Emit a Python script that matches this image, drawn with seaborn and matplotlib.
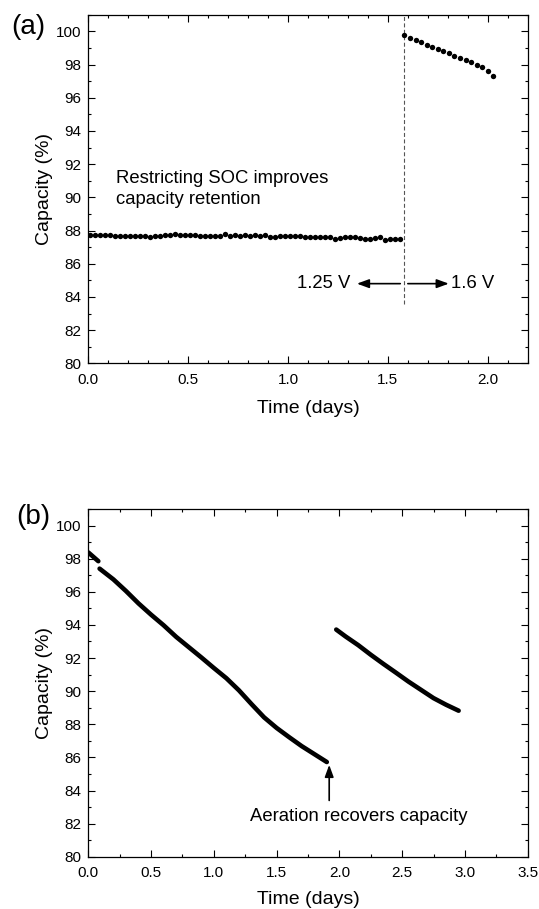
import matplotlib
matplotlib.use("Agg")
import matplotlib.pyplot as plt
from matplotlib.ticker import MultipleLocator, FormatStrFormatter
import seaborn as sns
import pandas as pd

# ---------------- data ----------------
# Panel (a): 1.25 V segment
a1_time = [0.010, 0.035, 0.060, 0.085, 0.110, 0.135, 0.160, 0.185, 0.210, 0.235,
           0.260, 0.285, 0.310, 0.335, 0.360, 0.385, 0.410, 0.435, 0.460, 0.485,
           0.510, 0.535, 0.560, 0.585, 0.610, 0.635, 0.660, 0.685, 0.710, 0.735,
           0.760, 0.785, 0.810, 0.835, 0.860, 0.885, 0.910, 0.935, 0.960, 0.985,
           1.010, 1.035, 1.060, 1.085, 1.110, 1.135, 1.160, 1.185, 1.210, 1.235,
           1.260, 1.285, 1.310, 1.335, 1.360, 1.385, 1.410, 1.435, 1.460, 1.485,
           1.510, 1.535, 1.560]
a1_cap = [87.72, 87.72, 87.71, 87.71, 87.71, 87.70, 87.70, 87.70, 87.69, 87.69,
          87.68, 87.70, 87.60, 87.68, 87.69, 87.72, 87.74, 87.78, 87.75, 87.74,
          87.73, 87.72, 87.70, 87.69, 87.69, 87.68, 87.70, 87.77, 87.70, 87.73,
          87.67, 87.72, 87.66, 87.71, 87.70, 87.72, 87.62, 87.64, 87.66, 87.67,
          87.70, 87.66, 87.70, 87.61, 87.60, 87.60, 87.61, 87.60, 87.62, 87.50,
          87.55, 87.58, 87.60, 87.58, 87.52, 87.50, 87.50, 87.52, 87.58, 87.40,
          87.48, 87.48, 87.48]
# Panel (a): 1.6 V segment
a2_time = [1.583, 1.611, 1.639, 1.667, 1.694, 1.722, 1.750, 1.778, 1.806,
           1.833, 1.861, 1.889, 1.917, 1.944, 1.972, 2.000, 2.028]
a2_cap = [99.80, 99.62, 99.47, 99.33, 99.20, 99.07, 98.93, 98.80, 98.67,
          98.54, 98.41, 98.28, 98.14, 98.00, 97.83, 97.62, 97.30]
a_switch_time = 1.58

# Panel (b)
b0_time = [0.000, 0.080]
b0_cap = [98.38, 97.85]
b1_time = [0.090, 0.20, 0.30, 0.40, 0.50, 0.60, 0.70, 0.80, 0.90, 1.00,
           1.10, 1.20, 1.30, 1.40, 1.50, 1.60, 1.70, 1.80, 1.90]
b1_cap = [97.40, 96.75, 96.05, 95.30, 94.62, 93.98, 93.28, 92.66, 92.04, 91.40,
          90.78, 90.05, 89.22, 88.42, 87.78, 87.22, 86.68, 86.20, 85.72]
b2_time = [1.975, 2.05, 2.15, 2.25, 2.35, 2.45, 2.55, 2.65, 2.75, 2.85, 2.95]
b2_cap = [93.72, 93.30, 92.78, 92.20, 91.65, 91.12, 90.58, 90.08, 89.58, 89.18, 88.82]

# ---------------- style ----------------
sns.set_theme(style="white")
plt.rcParams["font.family"] = ["Liberation Sans", "DejaVu Sans"]
plt.rcParams["axes.linewidth"] = 0.9
plt.rcParams["axes.edgecolor"] = "black"
plt.rcParams["text.color"] = "black"
plt.rcParams["axes.labelcolor"] = "black"

fig = plt.figure(figsize=(5.39, 9.09), dpi=100)
axA = fig.add_axes([0.1638, 0.6003, 0.8152, 0.3835])
axB = fig.add_axes([0.1638, 0.0575, 0.8152, 0.3825])


def style_axes(ax, xmax, xmajor, xminor, xlabelpad):
    ax.set_xlim(0, xmax)
    ax.set_ylim(80, 101)
    ax.xaxis.set_major_locator(MultipleLocator(xmajor))
    ax.xaxis.set_minor_locator(MultipleLocator(xminor))
    ax.yaxis.set_major_locator(MultipleLocator(2))
    ax.yaxis.set_minor_locator(MultipleLocator(1))
    ax.xaxis.set_major_formatter(FormatStrFormatter("%.1f"))
    ax.yaxis.set_major_formatter(FormatStrFormatter("%d"))
    ax.tick_params(which="both", direction="in", top=True, right=True,
                   bottom=True, left=True, color="black", width=0.8,
                   labelsize=11, labelcolor="black")
    ax.tick_params(which="major", length=4.8)
    ax.tick_params(axis="y", which="major", pad=5)
    ax.tick_params(axis="x", which="major", pad=7)
    ax.tick_params(which="minor", length=2.4)
    for s in ax.spines.values():
        s.set_visible(True)
        s.set_color("black")
        s.set_linewidth(0.9)
    ax.set_xlabel("Time (days)", fontsize=14, labelpad=xlabelpad)
    ax.set_ylabel("Capacity (%)", fontsize=14, labelpad=2)
    ax.grid(False)


# ---------------- panel (a) ----------------
dfa1 = pd.DataFrame({"t": a1_time, "c": a1_cap})
dfa2 = pd.DataFrame({"t": a2_time, "c": a2_cap})
sns.scatterplot(data=dfa1, x="t", y="c", ax=axA, color="black", s=15,
                linewidth=0, zorder=3)
sns.scatterplot(data=dfa2, x="t", y="c", ax=axA, color="black", s=15,
                linewidth=0, zorder=3)
axA.plot([a_switch_time, a_switch_time], [83.55, 101], color="#555555",
         lw=0.8, dashes=(3.6, 2.2), zorder=2)
style_axes(axA, 2.2, 0.5, 0.1, 9)

axA.text(0.14, 90.5, "Restricting SOC improves\ncapacity retention",
         fontsize=13.3, ha="left", va="center", linespacing=1.32)
arrow_kw = dict(arrowstyle="-|>,head_length=0.6,head_width=0.22",
                color="black", lw=1.2, mutation_scale=12,
                shrinkA=0, shrinkB=0)
axA.annotate("", xy=(1.345, 84.8), xytext=(1.562, 84.8), arrowprops=arrow_kw)
axA.annotate("", xy=(1.805, 84.8), xytext=(1.600, 84.8), arrowprops=arrow_kw)
axA.text(1.313, 84.8, "1.25 V", fontsize=13.3, ha="right", va="center")
axA.text(1.815, 84.8, "1.6 V", fontsize=13.3, ha="left", va="center")

# ---------------- panel (b) ----------------
for tt, cc in ((b0_time, b0_cap), (b1_time, b1_cap), (b2_time, b2_cap)):
    d = pd.DataFrame({"t": tt, "c": cc})
    sns.lineplot(data=d, x="t", y="c", ax=axB, color="black", lw=3.3,
                 sort=False, estimator=None, solid_capstyle="round")
style_axes(axB, 3.5, 0.5, 0.25, 7.5)
axB.annotate("", xy=(1.919, 85.55), xytext=(1.919, 83.4), arrowprops=arrow_kw)
axB.text(1.288, 82.45, "Aeration recovers capacity", fontsize=13.3,
         ha="left", va="center")

# panel letters
fig.text(11 / 539, 1 - 27.5 / 909, "(a)", fontsize=20, ha="left", va="center")
fig.text(16 / 539, 1 - 517 / 909, "(b)", fontsize=20, ha="left", va="center")

fig.savefig("out.png", dpi=100)
